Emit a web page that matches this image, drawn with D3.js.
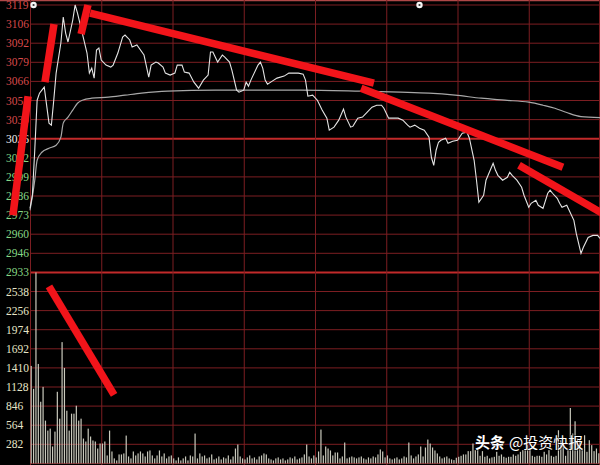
<!DOCTYPE html>
<html>
<head>
<meta charset="utf-8">
<script src="https://cdn.jsdelivr.net/npm/d3@7"></script>
<style>
  html, body { margin: 0; padding: 0; background: #000; }
  svg { display: block; }
</style>
</head>
<body>
<div id="chart"></div>
<script>
// price line (minute of session, index value)
var priceMinutes = [0,1,2,3,4,5,6,8,9,10,11,13,14,15,16,18,19,20,21,22,24,25,26,27,28,29,30,32,34,35,37,39,40,42,43,45,48,50,51,53,54,56,57,59,61,62,64,65,67,69,71,73,75,76,77,79,81,82,84,85,87,88,90,91,92,93,96,97,98,99,100,102,104,107,109,111,113,115,116,117,119,121,123,125,126,128,130,132,133,135,136,138,140,142,144,146,148,149,151,152,154,155,157,159,160,162,164,166,168,169,170,171,172,173,175,176,178,180,182,184,185,187,188,189,191,192,195,196,197,199,201,202,203,205,207,208,210,211,213,214,216,218,219,220,222,223,224,226,227,229,230,232,233,235,237,239,240];
var priceValues = [2977.5,2986.6,3018.0,3052.9,3057.8,3059.9,3062.0,3036.9,3035.5,3052.9,3071.8,3092.8,3110.9,3099.7,3093.5,3108.8,3119.3,3113.7,3106.7,3099.7,3085.8,3071.8,3075.3,3068.3,3087.9,3089.3,3080.9,3077.4,3076.0,3077.4,3085.8,3097.0,3098.3,3094.9,3090.0,3091.4,3084.4,3069.0,3077.4,3079.5,3078.8,3076.0,3071.8,3070.4,3071.8,3077.4,3077.4,3072.5,3071.8,3065.5,3061.3,3066.9,3070.4,3086.5,3086.5,3079.5,3084.4,3083.0,3079.5,3073.9,3059.9,3058.5,3059.9,3065.5,3062.7,3066.9,3077.4,3079.5,3075.3,3066.9,3064.1,3066.2,3068.3,3069.7,3071.8,3071.8,3071.8,3071.1,3066.9,3055.7,3056.4,3052.9,3046.0,3040.4,3032.0,3034.1,3039.0,3046.7,3041.1,3034.1,3034.8,3040.4,3041.1,3044.6,3048.0,3049.4,3049.4,3047.3,3040.4,3040.4,3040.4,3040.4,3039.0,3035.5,3034.1,3035.5,3033.4,3032.0,3027.1,3013.1,3007.5,3018.0,3023.6,3025.0,3026.4,3022.9,3024.3,3025.0,3029.9,3030.6,3026.4,3011.0,2997.1,2981.7,2986.6,2997.1,3008.9,3004.0,3000.5,2997.1,2999.1,3002.6,3000.5,2997.1,2992.2,2986.6,2978.2,2981.0,2983.1,2979.6,2977.5,2988.0,2990.1,2988.0,2984.5,2981.0,2978.2,2979.6,2976.1,2969.1,2960.0,2946.1,2950.3,2957.2,2958.6,2958.6,2956.5];

// average price line
var avgMinutes = [0,2,3,5,8,11,13,14,16,18,20,22,26,33,40,47,58,78,114,139,156,168,179,190,200,210,216,221,226,232,240];
var avgValues = [2976.1,2997.1,3011.0,3016.6,3019.4,3021.5,3027.1,3036.9,3041.1,3046.0,3050.8,3052.9,3054.3,3055.0,3056.4,3057.8,3059.2,3059.9,3059.9,3059.2,3058.5,3057.8,3056.4,3054.3,3052.9,3051.5,3049.4,3047.3,3044.3,3041.5,3040.8];

// volume per minute (240 bars)
var volumes = [
  1447,1107,2834,1476,915,1136,635,487,516,251,
  472,1063,664,1800,1417,782,487,738,738,856,
  635,664,369,325,516,399,340,325,221,295,
  295,325,118,487,177,74,44,133,133,148,
  413,103,74,177,118,148,177,148,103,177,
  192,118,74,118,192,103,148,74,103,118,
  74,44,89,44,74,103,44,118,103,443,
  74,148,103,118,74,89,133,59,74,103,
  59,89,74,118,59,103,221,280,103,74,
  59,89,118,74,89,59,103,118,148,133,
  74,59,44,74,89,59,74,44,59,89,
  74,103,59,74,89,133,280,103,74,118,
  89,177,502,118,251,221,192,118,162,162,
  74,103,310,74,89,103,89,74,89,103,
  74,59,89,74,103,89,133,207,177,89,
  118,74,59,74,89,59,74,103,89,310,
  118,74,103,133,251,103,236,354,295,236,
  192,148,103,74,89,103,74,59,49,84,
  98,113,133,133,182,182,295,197,221,113,
  182,98,113,74,89,98,172,113,133,98,
  84,98,98,133,113,133,172,197,212,271,
  212,113,98,113,113,98,172,133,197,113,
  98,113,492,344,295,113,221,822,443,625,
  369,344,221,418,172,344,271,182,221,150
];

var priceLabels = ["3119","3106","3092","3079","3066","3052","3039","3026","3012","2999","2986","2973","2960","2946","2933"];
var volumeLabels = ["2538","2256","1974","1692","1410","1128","846","564","282"];
var timeTicks = [0,30,60,90,120,150,180,210,240];

// red hand-drawn trend strokes: [minute, price] pairs
var trendStrokes = [
  [[-0.8,3055.7],[-7.2,2972.6]],
  [[10.1,3106.0],[6.3,3065.5]],
  [[24.4,3119.3],[21.5,3099.0]],
  [[25.3,3113.7],[144.8,3064.8]],
  [[139.4,3061.3],[224.4,3006.1]],
  [[205.9,3007.5],[241,2974.0]]
];
// stroke over the volume panel: [minute, volume]
var volumeStroke = [[8.0,2627],[35.4,1018]];

var width = 600, height = 465;
var svg = d3.select("#chart").append("svg")
  .attr("width", width).attr("height", height)
  .style("background", "#000");

var x = d3.scaleLinear().domain([0, 240]).range([30, 600]);
var row = d3.scaleLinear().domain([0, 24]).range([5, 463.4]);
var y = d3.scaleLinear().domain([2932.8, 3119.3]).range([row(14), row(0)]);
var yv = d3.scaleLinear().domain([0, 2820]).range([row(24), row(14) + 1]);

// grid
svg.append("line").attr("x1", 0).attr("x2", width).attr("y1", 0.5).attr("y2", 0.5)
  .attr("stroke", "#b04848").attr("stroke-width", 1.5);

var grid = svg.append("g");
grid.selectAll(".h").data(d3.range(25)).enter().append("line")
  .attr("x1", 30).attr("x2", 600)
  .attr("y1", function (d) { return row(d); })
  .attr("y2", function (d) { return row(d); })
  .attr("stroke", function (d) { return (d == 7 || d == 14) ? "#c22a2a" : "#7c1e22"; })
  .attr("stroke-width", function (d) { return (d == 7 || d == 14) ? 2 : 1; });

grid.selectAll(".v").data(timeTicks).enter().append("line")
  .attr("x1", function (d) { return Math.min(x(d) + 0.5, 599.5); })
  .attr("x2", function (d) { return Math.min(x(d) + 0.5, 599.5); })
  .attr("y1", 0).attr("y2", height)
  .attr("stroke", "#7c1e22").attr("stroke-width", 1);

// axis labels
svg.selectAll(".plab").data(priceLabels).enter().append("text")
  .attr("x", 6)
  .attr("y", function (d, i) { return row(i) + 4; })
  .attr("font-family", "Liberation Serif, serif")
  .attr("font-size", 11.5)
  .attr("fill", function (d, i) { return i < 7 ? "#d84a4a" : (i == 7 ? "#f0f0f0" : "#86d886"); })
  .text(function (d) { return d; });

svg.selectAll(".vlab").data(volumeLabels).enter().append("text")
  .attr("x", 6)
  .attr("y", function (d, i) { return row(i + 15) + 4; })
  .attr("font-family", "Liberation Serif, serif")
  .attr("font-size", 11.5)
  .attr("fill", "#e6e6c8")
  .text(function (d) { return d; });

// volume bars
svg.append("g").selectAll("rect").data(volumes).enter().append("rect")
  .attr("x", function (d, i) { return x(i) + 0.6; })
  .attr("width", 1.2)
  .attr("y", function (d) { return yv(d); })
  .attr("height", function (d) { return yv(0) - yv(d); })
  .attr("fill", "#c9c9bc");

// average line
var avgData = avgMinutes.map(function (m, i) { return [m, avgValues[i]]; });
var priceData = priceMinutes.map(function (m, i) { return [m, priceValues[i]]; });
var line = d3.line()
  .x(function (d) { return x(d[0]); })
  .y(function (d) { return y(d[1]); })
  .curve(d3.curveMonotoneX);

svg.append("path").datum(avgData).attr("d", line)
  .attr("fill", "none").attr("stroke", "#a8a8a8").attr("stroke-width", 1.2);
svg.append("path").datum(priceData).attr("d", d3.line()
    .x(function (d) { return x(d[0]); })
    .y(function (d) { return y(d[1]); }))
  .attr("fill", "none").attr("stroke", "#e4e4e4").attr("stroke-width", 1.1);

// little marker icons on the top row
[[1.5, 3119.3], [164, 3119.3]].forEach(function (p) {
  svg.append("circle").attr("cx", x(p[0])).attr("cy", y(p[1])).attr("r", 3.2).attr("fill", "#f4f4f4");
  svg.append("circle").attr("cx", x(p[0])).attr("cy", y(p[1])).attr("r", 1.1).attr("fill", "#333");
});

// red trend strokes
svg.selectAll(".trend").data(trendStrokes).enter().append("line")
  .attr("x1", function (d) { return x(d[0][0]); })
  .attr("y1", function (d) { return y(d[0][1]); })
  .attr("x2", function (d) { return x(d[1][0]); })
  .attr("y2", function (d) { return y(d[1][1]); })
  .attr("stroke", "#f2141a").attr("stroke-width", 7.5);

svg.append("line")
  .attr("x1", x(volumeStroke[0][0])).attr("y1", yv(volumeStroke[0][1]))
  .attr("x2", x(volumeStroke[1][0])).attr("y2", yv(volumeStroke[1][1]))
  .attr("stroke", "#f2141a").attr("stroke-width", 7.5);

// watermark
var wm = svg.append("text").attr("x", 475).attr("y", 448)
  .attr("font-family", "Noto Sans CJK SC, sans-serif")
  .attr("font-size", 15).attr("fill", "#ffffff")
  .style("paint-order", "stroke").attr("stroke", "rgba(0,0,0,0.45)").attr("stroke-width", 2);
wm.append("tspan").attr("font-weight", "bold").text("头条");
wm.append("tspan").attr("dx", 4).text("@投资快报");
</script>
</body>
</html>
